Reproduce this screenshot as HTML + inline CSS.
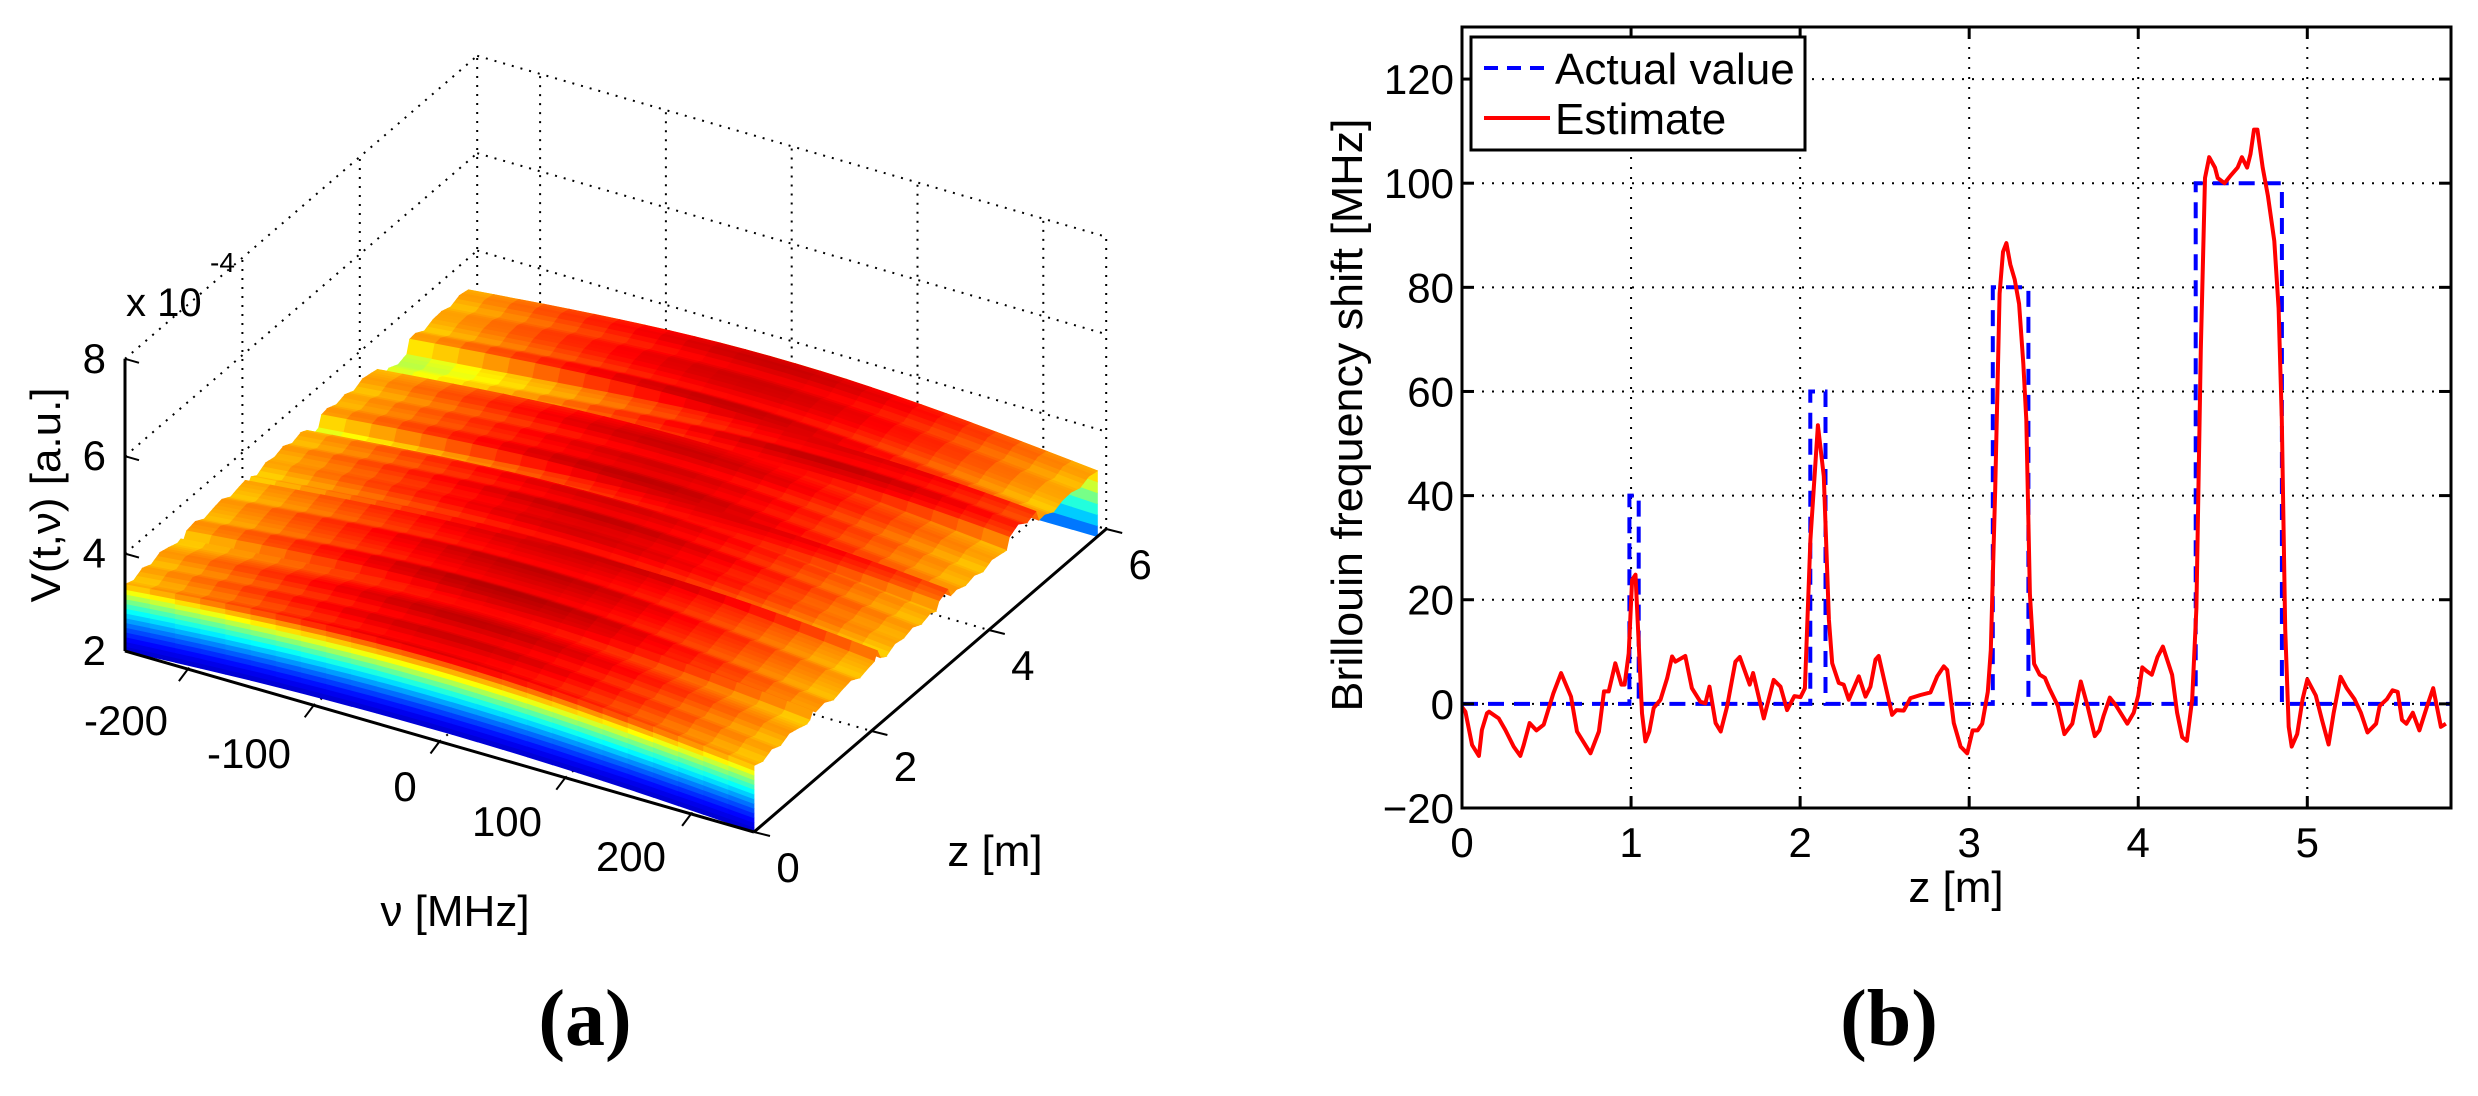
<!DOCTYPE html>
<html><head><meta charset="utf-8"><title>Brillouin figure</title>
<style>
html,body{margin:0;padding:0;background:#fff;}
svg{display:block;}
text{font-family:"Liberation Sans",Arial,sans-serif;fill:#000;}
.lbl{font-family:"Liberation Serif","Times New Roman",serif;font-weight:bold;}
</style></head>
<body>
<svg id="fig" width="2478" height="1096" viewBox="0 0 2478 1096" xmlns="http://www.w3.org/2000/svg">
  <g id="left"></g>
  <g id="right"></g>
  <text class="lbl" x="585" y="1045" font-size="80" text-anchor="middle">(a)</text>
  <text class="lbl" x="1889" y="1045" font-size="80" text-anchor="middle">(b)</text>
</svg>
<script>
// ===== Panel (b) data =====
const zEst = [0,0.02,0.06,0.1,0.118,0.148,0.16,0.217,0.256,0.306,0.345,0.365,0.4,0.44,0.483,0.54,0.586,0.645,0.68,0.76,0.81,0.84,0.868,0.907,0.943,0.962,0.986,1.006,1.026,1.065,1.085,1.108,1.134,1.174,1.213,1.243,1.262,1.321,1.36,1.41,1.44,1.464,1.5,1.53,1.568,1.617,1.643,1.702,1.722,1.785,1.844,1.884,1.923,1.966,2.002,2.028,2.061,2.105,2.14,2.17,2.19,2.229,2.258,2.288,2.347,2.387,2.416,2.446,2.465,2.495,2.544,2.57,2.613,2.653,2.712,2.771,2.811,2.85,2.87,2.909,2.949,2.988,3.02,3.05,3.077,3.11,3.128,3.154,3.18,3.2,3.22,3.243,3.269,3.295,3.32,3.338,3.359,3.384,3.417,3.448,3.474,3.525,3.563,3.61,3.66,3.7,3.743,3.77,3.794,3.832,3.87,3.935,3.973,4.0,4.024,4.05,4.08,4.114,4.146,4.2,4.23,4.26,4.288,4.319,4.344,4.37,4.395,4.42,4.454,4.47,4.51,4.55,4.588,4.613,4.644,4.664,4.685,4.705,4.736,4.767,4.805,4.83,4.849,4.869,4.89,4.908,4.94,4.972,5.0,5.05,5.087,5.126,5.156,5.197,5.233,5.279,5.317,5.356,5.407,5.428,5.471,5.504,5.535,5.56,5.586,5.624,5.663,5.709,5.745,5.79,5.82];
const vEst = [-0.6,-1.5,-7.9,-10,-5,-1.8,-1.5,-2.8,-5,-8.2,-10,-7.9,-3.7,-5.1,-4,2,5.9,1.4,-5.3,-9.5,-5.3,2.4,2.4,7.8,3.7,3.7,9.7,23.8,24.8,-1.8,-7.2,-5.3,-0.8,0.8,4.9,9.1,8.1,9.2,3,0.4,0.1,3.3,-3.7,-5.3,-0.5,8.1,9,3.7,5.9,-2.8,4.6,3.3,-1.2,1.5,1.3,3,31.5,53.5,43.7,16.2,7.8,4,3.7,0.8,5.3,1.4,3.3,8.5,9.2,4.9,-2.1,-1.2,-1.3,1.1,1.7,2.2,5.3,7.2,6.5,-3.7,-8.2,-9.5,-5.1,-5.1,-3.8,2.3,10.3,41.2,78.8,86.8,88.5,84.4,81.5,76.8,65.4,54.6,21.1,7.7,5.6,5,3,-0.4,-5.8,-3.8,4.3,-0.4,-6.2,-5.1,-2.4,1.2,-0.4,-3.8,-1.7,1.6,7,6.3,5.6,9,11,5.6,-1.7,-6.4,-7.1,0.9,18.4,68,101,105,103,101,100,101.6,103,105,103,105.6,110.3,110.3,103,97.6,88.9,76,54.6,14.4,-4.4,-8.2,-5.8,0.9,4.7,1.6,-3.1,-7.8,-1.7,5.2,3,0.9,-1.7,-5.5,-3.8,-0.4,0.9,2.6,2.3,-3.1,-3.8,-1.7,-5.1,-0.4,3,-4.4,-3.8];
const zAct = [0,0.99,0.99,1.045,1.045,2.06,2.06,2.15,2.15,3.14,3.14,3.35,3.35,4.34,4.34,4.85,4.85,5.85];
const vAct = [0,0,40,40,0,0,60,60,0,0,80,80,0,0,100,100,0,0];
const xTicks = [0,1,2,3,4,5];
const yTicks = [-20,0,20,40,60,80,100,120];
const yTickLabels = ["\u221220","0","20","40","60","80","100","120"];

// ===== Panel (a) data =====
const nuTicks = [-200,-100,0,100,200];
const zTicks3 = [0,2,4,6];
const vTicks3 = [2,4,6,8];
const bfsZ = [0,0.99,1.045,2.06,2.15,3.14,3.35,4.34,4.85,5.85];
const bfsV = [0,40,0,60,0,80,0,100,0,0];
const ripple = [0.02,-0.03,0.04,-0.02,0.05,0.01,-0.04,0.03,0.06,-0.02,0.02,0.05,-0.03,0.01,0.04,-0.05,0.03,0.0,0.05,-0.02,0.03,-0.04,0.02,0.05,-0.01,0.03,-0.03,0.04,0.01,-0.02,0.05,-0.03,0.02,0.04,-0.04,0.02,0.03,-0.02,0.04,0.01];

const NS = "http://www.w3.org/2000/svg";
function mk(tag, attrs, parent){ const e=document.createElementNS(NS,tag); for(const k in attrs) e.setAttribute(k,attrs[k]); parent.appendChild(e); return e; }

// ---------- Panel (b) ----------
(function(){
  const g = document.getElementById('right');
  const L=1462,R=2451,T=27,B=808, xmin=0,xmax=5.85,ymin=-20,ymax=130;
  const sx = v => L + (v-xmin)/(xmax-xmin)*(R-L);
  const sy = v => B - (v-ymin)/(ymax-ymin)*(B-T);
  xTicks.forEach(t=>{ if(t>0){ const l=mk('line',{x1:sx(t),x2:sx(t),y1:T,y2:B,stroke:'#000','stroke-width':2,'stroke-dasharray':'2 8'},g);
      }});
  yTicks.forEach(t=>{ if(t>ymin){ const l=mk('line',{x1:L,x2:R,y1:sy(t),y2:sy(t),stroke:'#000','stroke-width':2,'stroke-dasharray':'2 8'},g);
      }});
  let d=''; zAct.forEach((z,i)=>{ d+=(i?'L':'M')+sx(z).toFixed(1)+' '+sy(vAct[i]).toFixed(1); });
  const pa=mk('path',{d:d,fill:'none',stroke:'#0000ff','stroke-width':4,'stroke-dasharray':'16 10'},g);
   
  d=''; zEst.forEach((z,i)=>{ d+=(i?'L':'M')+sx(z).toFixed(1)+' '+sy(vEst[i]).toFixed(1); });
  const pe=mk('path',{d:d,fill:'none',stroke:'#ff0000','stroke-width':4,'stroke-linejoin':'round'},g);
   
  const bx=mk('rect',{x:L,y:T,width:R-L,height:B-T,fill:'none',stroke:'#000','stroke-width':3},g);
   
  xTicks.forEach(t=>{
    mk('line',{x1:sx(t),x2:sx(t),y1:B,y2:B-12,stroke:'#000','stroke-width':3},g);
    mk('line',{x1:sx(t),x2:sx(t),y1:T,y2:T+12,stroke:'#000','stroke-width':3},g);
    const tx=mk('text',{x:sx(t),y:857,'font-size':42,'text-anchor':'middle'},g); tx.textContent=String(t);
     
  });
  yTicks.forEach((t,i)=>{
    mk('line',{x1:L,x2:L+12,y1:sy(t),y2:sy(t),stroke:'#000','stroke-width':3},g);
    mk('line',{x1:R,x2:R-12,y1:sy(t),y2:sy(t),stroke:'#000','stroke-width':3},g);
    const tx=mk('text',{x:1454,y:sy(t)+15,'font-size':42,'text-anchor':'end'},g); tx.textContent=yTickLabels[i];
     
  });
  const xl=mk('text',{x:1956,y:902,'font-size':44,'text-anchor':'middle'},g); xl.textContent='z [m]';
   
  const yl=mk('text',{x:0,y:0,'font-size':44,'text-anchor':'middle',transform:'translate(1362,415) rotate(-90)',textLength:593,lengthAdjust:'spacingAndGlyphs'},g);
  yl.textContent='Brillouin frequency shift [MHz]';
   
  const lg=mk('g',{},g);  
  mk('rect',{x:1471,y:37,width:334,height:113,fill:'#fff',stroke:'#000','stroke-width':3},lg);
  const l1=mk('line',{x1:1484,x2:1550,y1:68,y2:68,stroke:'#0000ff','stroke-width':4,'stroke-dasharray':'14 9'},lg);
   
  const t1=mk('text',{x:1555,y:84,'font-size':44},lg); t1.textContent='Actual value';
   
  const l2=mk('line',{x1:1484,x2:1550,y1:118,y2:118,stroke:'#ff0000','stroke-width':4},lg);
   
  const t2=mk('text',{x:1555,y:134,'font-size':44},lg); t2.textContent='Estimate';
   
})();

// ---------- Panel (a) ----------
(function(){
  const g=document.getElementById('left');
  const NU0=-250,NU1=250,Z1=6,ZS=5.85;
  const P=(nu,z,V)=>[439.5+1.258*nu+58.7*z, 741.5+0.362*nu-50.5*z-48.7*(V-2)];
  const clamp=v=>Math.max(0,Math.min(1,v));
  function jet(t){ t=clamp(t); const r=clamp(1.5-Math.abs(4*t-3)),gg=clamp(1.5-Math.abs(4*t-2)),b=clamp(1.5-Math.abs(4*t-1));
    return 'rgb('+Math.round(r*255)+','+Math.round(gg*255)+','+Math.round(b*255)+')'; }
  const CL0=2.0,CL1=3.95;
  const col=V=>jet((V-CL0)/(CL1-CL0));
  function bfs(z){ let v=0; for(let i=0;i<bfsZ.length;i++){ if(z>=bfsZ[i]) v=bfsV[i]; } return v; }
  function rip(z){ const p=z/0.15, i=Math.floor(p), f=p-i; const a=ripple[Math.min(i,ripple.length-1)], b=ripple[Math.min(i+1,ripple.length-1)]; return a+(b-a)*f; }
  function surf(nu,z){ const b=bfs(z); const A=1.75*(1+rip(z)); return 2+A/(1+Math.pow((nu-b)/450,2)); }
  const pt=p=>p[0].toFixed(1)+','+p[1].toFixed(1);
  function dline(a,b,dot,name){ const l=mk('line',{x1:a[0],y1:a[1],x2:b[0],y2:b[1],stroke:'#000','stroke-width':2,'stroke-dasharray':dot?'2 7':'none'},g);
      return l; }
  nuTicks.concat([NU1]).forEach(n=>dline(P(n,Z1,2),P(n,Z1,8),true,'back-wall-grid-line'));
  vTicks3.forEach(v=>dline(P(NU0,Z1,v),P(NU1,Z1,v),true,'back-wall-grid-line'));
  zTicks3.forEach(z=>{ if(z>0) dline(P(NU0,z,2),P(NU0,z,8),true,'side-wall-grid-line'); });
  vTicks3.forEach(v=>{ if(v>2) dline(P(NU0,0,v),P(NU0,Z1,v),true,'side-wall-grid-line'); });
  nuTicks.forEach(n=>dline(P(n,0,2),P(n,Z1,2),true,'floor-grid-line'));
  zTicks3.forEach(z=>{ if(z>0) dline(P(NU0,z,2),P(NU1,z,2),true,'floor-grid-line'); });
  const sg=mk('g',{},g);  
  const dz=0.05, dn=20;
  const zs=[]; for(let z=0; z<=ZS+1e-9; z+=dz) zs.push(+z.toFixed(3));
  const nus=[]; for(let n=NU0;n<=NU1+1e-9;n+=dn) nus.push(n);
  // end face at far z (banded)
  const NE=6;
  for(let j=0;j<nus.length-1;j++){
    const a=nus[j],b=nus[j+1], z=ZS;
    const ta=surf(a,z), tb=surf(b,z);
    for(let k=0;k<NE;k++){
      const f0=k/NE,f1=(k+1)/NE;
      const a0=2+(ta-2)*f0,a1=2+(ta-2)*f1,b0=2+(tb-2)*f0,b1=2+(tb-2)*f1;
      const c=jet(0.2+0.5*((f0+f1)/2));
      mk('polygon',{points:[P(a,z,a0),P(b,z,b0),P(b,z,b1),P(a,z,a1)].map(pt).join(' '),fill:c,stroke:c,'stroke-width':0.8},sg);
    }
  }
  for(let i=zs.length-2;i>=0;i--){
    const z0=zs[i], z1=zs[i+1];
    for(let j=0;j<nus.length-1;j++){
      const a=nus[j],b=nus[j+1];
      const v00=surf(a,z0),v10=surf(b,z0),v01=surf(a,z1),v11=surf(b,z1);
      const c=col((v00+v10+v01+v11)/4);
      mk('polygon',{points:[P(a,z0,v00),P(b,z0,v10),P(b,z1,v11),P(a,z1,v01)].map(pt).join(' '),fill:c,stroke:c,'stroke-width':0.8},sg);
    }
  }
  const wg=mk('g',{},g);  
  const NB=14;
  for(let j=0;j<nus.length-1;j++){
    const a=nus[j],b=nus[j+1];
    const ba=2+0.22*(1-Math.pow(a/250,2)), bb=2+0.22*(1-Math.pow(b/250,2));
    const ta=surf(a,0), tb=surf(b,0);
    for(let k=0;k<NB;k++){
      const f0=k/NB,f1=(k+1)/NB;
      const a0=ba+(ta-ba)*f0,a1=ba+(ta-ba)*f1,b0=bb+(tb-bb)*f0,b1=bb+(tb-bb)*f1;
      const fm=Math.pow((f0+f1)/2,1.5);
      const tTop=((ta+tb)/2-CL0)/(CL1-CL0);
      const c=jet(0.08+(tTop-0.08)*fm);
      mk('polygon',{points:[P(a,0,a0),P(b,0,b0),P(b,0,b1),P(a,0,a1)].map(pt).join(' '),fill:c,stroke:c,'stroke-width':0.8},wg);
    }
  }
  dline(P(NU0,0,2),P(NU0,0,8),false,'v-axis-line').setAttribute('stroke-width',3);
  dline(P(NU0,0,2),P(NU1,0,2),false,'nu-axis-line').setAttribute('stroke-width',3);
  dline(P(NU1,0,2),P(NU1,Z1,2),false,'z-axis-line').setAttribute('stroke-width',3);
  vTicks3.forEach(v=>{ const p=P(NU0,0,v); dline(p,[p[0]+14,p[1]+4],false,'v-tick');
    const t=mk('text',{x:106,y:p[1]+14,'font-size':42,'text-anchor':'end'},g); t.textContent=String(v);
      });
  const nuLab=[[126,735],[249,768],[405,801],[507,836],[631,871]];
  nuTicks.forEach((n,i)=>{ const p=P(n,0,2); dline(p,[p[0]-9,p[1]+12],false,'nu-tick');
    const t=mk('text',{x:nuLab[i][0],y:nuLab[i][1],'font-size':42,'text-anchor':'middle'},g); t.textContent=String(n);
      });
  zTicks3.forEach(z=>{ const p=P(NU1,z,2); dline(p,[p[0]+16,p[1]+4],false,'z-tick');
    const t=mk('text',{x:p[0]+34,y:p[1]+50,'font-size':42,'text-anchor':'middle'},g); t.textContent=String(z);
      });
  const e1=mk('text',{x:126,y:316,'font-size':40},g); e1.textContent='x 10';
   
  const e2=mk('text',{x:210,y:272,'font-size':28},g); e2.textContent='-4';
   
  const zl=mk('text',{x:995,y:866,'font-size':44,'text-anchor':'middle'},g); zl.textContent='z [m]';
   
  const nl=mk('text',{x:455,y:926,'font-size':44,'text-anchor':'middle'},g); nl.textContent='\u03bd [MHz]';
   
  const vl=mk('text',{x:0,y:0,'font-size':42,'text-anchor':'middle',transform:'translate(60,495) rotate(-90)',textLength:215,lengthAdjust:'spacingAndGlyphs'},g);
  vl.textContent='V(t,\u03bd) [a.u.]';
   
})();
</script>
</body></html>
